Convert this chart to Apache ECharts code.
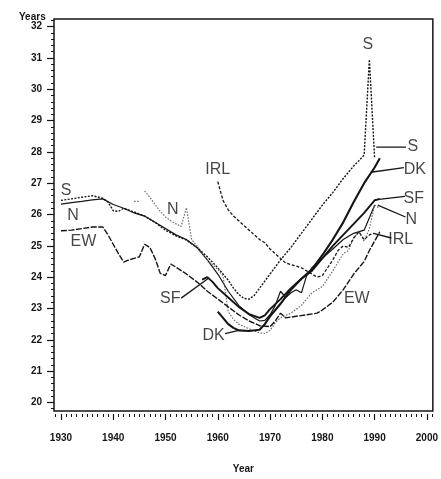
<!DOCTYPE html>
<html>
<head>
<meta charset="utf-8">
<script src="https://cdn.jsdelivr.net/npm/echarts@6/dist/echarts.min.js"></script>
<style>
  html, body { margin: 0; padding: 0; background: #fff; }
  #chart { width: 441px; height: 479px; }
</style>
</head>
<body>
<div id="chart"></div>
<script>
// mean age, years
const sYears = [1930,1932,1934,1936,1938,1939,1940,1941,1942,1944,1946,1948,1950,1952,1954,1956,1958,1960,1961,1962,1963,1964,1965,1966,1967,1968,1970,1972,1974,1976,1978,1980,1982,1984,1986,1987,1988,1989,1990];
const sVals  = [26.45,26.5,26.55,26.6,26.52,26.4,26.12,26.1,26.2,26.08,25.95,25.75,25.5,25.32,25.18,24.95,24.65,24.3,24.1,23.9,23.65,23.45,23.32,23.3,23.42,23.65,24.1,24.55,24.95,25.4,25.85,26.3,26.7,27.15,27.55,27.72,27.9,30.95,27.8];

const nYears = [1930,1932,1934,1936,1938,1940,1942,1944,1946,1948,1950,1952,1954,1956,1958,1960,1962,1964,1966,1968,1969,1970,1971,1972,1973,1974,1975,1976,1977,1978,1980,1982,1984,1986,1988,1989,1990];
const nVals  = [26.33,26.38,26.42,26.47,26.5,26.32,26.2,26.05,25.95,25.75,25.55,25.35,25.2,24.95,24.55,24.1,23.55,23.1,22.8,22.6,22.62,22.8,23.1,23.55,23.35,23.5,23.6,23.5,24.05,24.3,24.6,24.9,25.2,25.4,25.5,25.9,26.3];

const n2Years = [1944,1945,1945.5,1946,1947,1948,1949,1950,1951,1952,1953,1954,1955,1956,1958,1960,1961,1962,1963,1964,1966,1968,1969,1970,1971,1972,1974,1976,1978,1979,1980,1982,1984,1985,1986,1987,1988,1989,1990,1991];
const n2Vals  = [26.42,26.42,'-',26.75,26.55,26.32,26.1,25.92,25.8,25.7,25.62,26.22,25.2,25.0,24.55,24.25,24.05,22.9,22.65,22.5,22.35,22.22,22.2,22.3,22.55,22.7,22.85,23.1,23.5,23.6,23.7,24.2,24.75,24.85,25.25,25.45,25.15,25.55,26.3,26.2];

const ewYears = [1930,1932,1934,1936,1938,1939,1940,1941,1942,1943,1944,1945,1946,1947,1948,1949,1950,1951,1952,1954,1956,1958,1960,1962,1964,1966,1968,1970,1971,1972,1973,1975,1977,1979,1980,1982,1984,1986,1988,1989,1990,1991];
const ewVals  = [25.48,25.5,25.55,25.6,25.6,25.35,25.05,24.75,24.48,24.55,24.6,24.65,25.05,24.95,24.6,24.12,24.05,24.42,24.32,24.1,23.85,23.55,23.3,23.05,22.8,22.6,22.45,22.42,22.6,22.85,22.7,22.75,22.8,22.85,22.95,23.2,23.6,24.1,24.5,24.85,25.15,25.45];

const irlYears = [1960,1961,1962,1963,1964,1965,1966,1967,1968,1969,1970,1971,1972,1973,1974,1975,1976,1977,1978,1979,1980,1981,1982,1983,1984,1985,1986,1987,1988,1989,1990];
const irlVals  = [27.05,26.45,26.15,25.95,25.8,25.65,25.5,25.35,25.2,25.1,24.9,24.75,24.6,24.45,24.4,24.35,24.3,24.2,24.1,24.0,24.05,24.3,24.55,24.85,25.0,24.95,25.25,25.45,25.2,25.35,25.4];

const sfYears = [1957,1958,1959,1960,1962,1964,1966,1968,1969,1970,1972,1974,1976,1978,1980,1982,1984,1986,1988,1990,1991];
const sfVals  = [23.92,24.0,23.85,23.65,23.35,23.05,22.82,22.7,22.78,22.98,23.3,23.65,23.95,24.2,24.6,25.0,25.35,25.7,26.05,26.45,26.5];

const dkYears = [1960,1961,1962,1963,1964,1966,1968,1969,1970,1971,1972,1974,1976,1978,1980,1982,1984,1986,1988,1990,1991];
const dkVals  = [22.9,22.7,22.5,22.38,22.3,22.28,22.32,22.5,22.75,22.95,23.15,23.6,23.95,24.25,24.7,25.2,25.75,26.4,27.0,27.5,27.8];

// country labels and leader lines (data coordinates)
const labelText = ['S','N','EW','N','IRL','S','SF','DK','EW','S','DK','SF','N','IRL'];
const labelX    = [1931,1932.3,1934.3,1951.4,1960,1988.7,1950.9,1959.2,1986.6,1997.3,1997.7,1997.5,1997,1995];
const labelY    = [26.75,25.96,25.12,26.17,27.45,31.42,23.33,22.12,23.33,28.16,27.45,26.5,25.85,25.2];
const leaders = [
  [[1953.0, 23.33], [1958.3, 23.97]],
  [[1961.4, 22.2], [1964, 22.3]],
  [[1990.3, 28.15], [1996.0, 28.15]],
  [[1989.3, 27.35], [1995.6, 27.5]],
  [[1990, 26.47], [1995.8, 26.58]],
  [[1990.6, 26.3], [1995.9, 25.92]],
  [[1989.8, 25.4], [1993.2, 25.25]]
];

const yearTicks = [1930,1940,1950,1960,1970,1980,1990,2000];
const yTicks = [20,21,22,23,24,25,26,27,28,29,30,31,32];
const yearMinor = [];
for (let y = 1929; y <= 2001; y++) yearMinor.push(y);
const yMinor = [];
for (let v = 19.8; v <= 32.21; v += 0.2) yMinor.push(+v.toFixed(1));

const ink = '#151515';
const font = 'Liberation Sans';

function pairs(xs, ys) {
  return xs.map((x, i) => [x, ys[i]]);
}
function mkLine(name, xs, ys, width, type, color) {
  return {
    name: name,
    type: 'line',
    data: pairs(xs, ys),
    showSymbol: false,
    connectNulls: false,
    lineStyle: { color: color || ink, width: width, type: type },
    z: 3
  };
}

const series = [
  mkLine('S', sYears, sVals, 1.4, [2, 1.4]),
  mkLine('N', nYears, nVals, 1.2, 'solid'),
  mkLine('N2', n2Years, n2Vals, 1.2, [1.5, 1.5], '#6a6a6a'),
  mkLine('EW', ewYears, ewVals, 1.4, [6, 1.5]),
  mkLine('IRL', irlYears, irlVals, 1.3, [3, 1.8]),
  mkLine('SF', sfYears, sfVals, 1.9, 'solid'),
  mkLine('DK', dkYears, dkVals, 2.1, 'solid')
];
leaders.forEach(l => {
  series.push({
    type: 'line',
    data: l,
    showSymbol: false,
    lineStyle: { color: ink, width: 1.3 },
    z: 4
  });
});
series.push({
  type: 'scatter',
  data: labelText.map((t, i) => ({ name: t, value: [labelX[i], labelY[i]] })),
  symbolSize: 1,
  itemStyle: { color: 'transparent' },
  label: {
    show: true,
    position: 'inside',
    formatter: p => p.name,
    color: ink,
    fontFamily: font,
    fontSize: 16
  },
  z: 5
});

const chart = echarts.init(document.getElementById('chart'));
chart.setOption({
  animation: false,
  backgroundColor: '#fff',
  title: {
    text: 'Years',
    left: 14,
    top: 7,
    textStyle: { fontFamily: font, fontSize: 10, fontWeight: 'bold', color: ink }
  },
  grid: {
    left: 54, right: 6, top: 19, bottom: 63,
    show: true, borderColor: ink, borderWidth: 1.5
  },
  xAxis: [{
    type: 'value',
    min: 1928.67,
    max: 2001.14,
    offset: 3,
    name: 'Year',
    nameLocation: 'middle',
    nameGap: 50,
    nameTextStyle: { fontFamily: font, fontSize: 10, fontWeight: 'bold', color: ink },
    axisLine: { show: false },
    axisTick: { show: true, customValues: yearTicks, length: 6, lineStyle: { color: ink, width: 1.2 } },
    axisLabel: { customValues: yearTicks, formatter: v => String(v), margin: 19, fontFamily: font, fontSize: 10, fontWeight: 'bold', color: ink },
    splitLine: { show: false }
  }, {
    type: 'value',
    min: 1928.67,
    max: 2001.14,
    offset: 3,
    position: 'bottom',
    axisLine: { show: false },
    axisTick: { show: true, customValues: yearMinor, length: 3, lineStyle: { color: ink, width: 1 } },
    axisLabel: { show: false, customValues: yearMinor },
    splitLine: { show: false }
  }],
  yAxis: [{
    type: 'value',
    min: 19.726,
    max: 32.243,
    axisLine: { show: false },
    axisTick: { show: true, customValues: yTicks, length: 7, lineStyle: { color: ink, width: 1.2 } },
    axisLabel: { customValues: yTicks, margin: 12, fontFamily: font, fontSize: 10, fontWeight: 'bold', color: ink },
    splitLine: { show: false }
  }, {
    type: 'value',
    min: 19.726,
    max: 32.243,
    position: 'left',
    axisLine: { show: false },
    axisTick: { show: true, customValues: yMinor, length: 3, lineStyle: { color: ink, width: 1 } },
    axisLabel: { show: false, customValues: yMinor },
    splitLine: { show: false }
  }],
  series: series
});
</script>
</body>
</html>
